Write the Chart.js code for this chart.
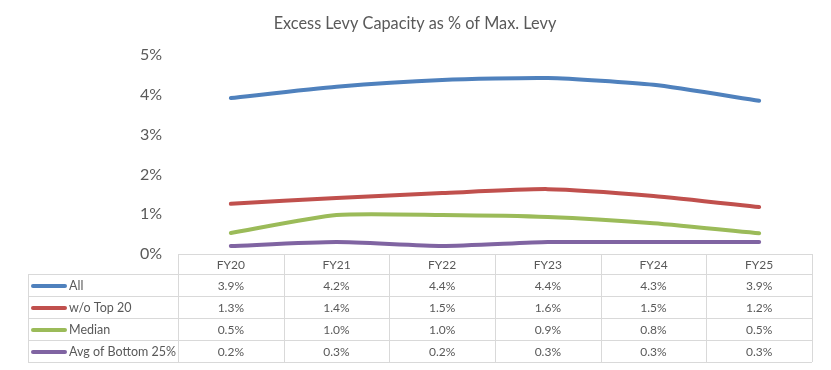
<!DOCTYPE html>
<html>
<head>
<meta charset="utf-8">
<script src="https://cdn.jsdelivr.net/npm/chart.js@4/dist/chart.umd.min.js"></script>
<style>
html,body{margin:0;padding:0;background:#fff;}
#wrap{width:831px;height:370px;position:relative;}
</style>
</head>
<body>
<div id="wrap"><canvas id="c" width="831" height="370"></canvas></div>
<script>
const categories = ['FY20','FY21','FY22','FY23','FY24','FY25'];
const seriesNames = ['All','w/o Top 20','Median','Avg of Bottom 25%'];
const allValues = [3.92, 4.20, 4.37, 4.42, 4.25, 3.85];
const woTop20Values = [1.26, 1.41, 1.53, 1.63, 1.46, 1.18];
const medianValues = [0.53, 0.98, 0.98, 0.93, 0.77, 0.52];
const bottom25Values = [0.2, 0.3, 0.2, 0.3, 0.3, 0.3];
const yTicks = [0,1,2,3,4,5];
const colors = ['#4F81BD','#C0504D','#9BBB59','#8064A2'];
const seriesValues = [allValues, woTop20Values, medianValues, bottom25Values];

const FONT = 'Lato, "Open Sans", sans-serif';
const TEXT = '#595959';
const GRID = '#D9D9D9';

const tablePlugin = {
  id: 'dataTable',
  afterDraw(chart) {
    const ctx = chart.ctx;
    const x = chart.scales.x;
    const area = chart.chartArea;
    const left = 28;
    const top = area.bottom;
    const headerH = 20;
    const rowH = 22;
    const n = categories.length;
    const colW = (area.right - area.left) / n;
    const bottom = top + headerH + rowH * seriesNames.length;
    ctx.save();
    ctx.strokeStyle = GRID;
    ctx.lineWidth = 1;
    ctx.beginPath();
    ctx.moveTo(area.left, top + 0.5);
    ctx.lineTo(area.right, top + 0.5);
    ctx.stroke();
    for (let r = 0; r <= seriesNames.length; r++) {
      const y = Math.round(top + headerH + r * rowH) + 0.5;
      ctx.beginPath();
      ctx.moveTo(left, y);
      ctx.lineTo(area.right, y);
      ctx.stroke();
    }
    for (let c = 0; c <= n; c++) {
      const xx = Math.round(area.left + c * colW) + 0.5;
      ctx.beginPath();
      ctx.moveTo(xx, top);
      ctx.lineTo(xx, bottom);
      ctx.stroke();
    }
    ctx.beginPath();
    ctx.moveTo(left + 0.5, top + headerH);
    ctx.lineTo(left + 0.5, bottom);
    ctx.stroke();
    ctx.fillStyle = TEXT;
    ctx.font = '12px ' + FONT;
    ctx.textAlign = 'center';
    ctx.textBaseline = 'middle';
    categories.forEach((cat, i) => {
      ctx.fillText(cat, x.getPixelForValue(i), top + headerH / 2 + 1);
    });
    seriesNames.forEach((name, r) => {
      const cy = top + headerH + r * rowH + rowH / 2 + 1;
      ctx.strokeStyle = colors[r];
      ctx.lineWidth = 4;
      ctx.lineCap = 'round';
      ctx.beginPath();
      ctx.moveTo(33, cy);
      ctx.lineTo(65, cy);
      ctx.stroke();
      ctx.fillStyle = TEXT;
      ctx.font = '12.5px ' + FONT;
      ctx.textAlign = 'left';
      ctx.fillText(name, 69, cy);
      ctx.textAlign = 'center';
      ctx.font = '12px ' + FONT;
      seriesValues[r].forEach((v, i) => {
        ctx.fillText(v.toFixed(1) + '%', x.getPixelForValue(i), cy);
      });
    });
    ctx.restore();
  }
};

const titlePlugin = {
  id: 'topTitle',
  afterDraw(chart) {
    const ctx = chart.ctx;
    ctx.save();
    ctx.fillStyle = TEXT;
    ctx.font = '16.3px ' + FONT;
    ctx.textAlign = 'center';
    ctx.textBaseline = 'middle';
    ctx.fillText('Excess Levy Capacity as % of Max. Levy', 415, 24);
    ctx.restore();
  }
};

new Chart(document.getElementById('c'), {
  type: 'line',
  data: {
    labels: categories,
    datasets: seriesNames.map((name, i) => ({
      label: name,
      data: seriesValues[i],
      borderColor: colors[i],
      backgroundColor: colors[i],
      borderWidth: 4,
      borderCapStyle: 'round',
      pointRadius: 0,
      tension: 0.2,
      fill: false
    }))
  },
  options: {
    responsive: false,
    animation: false,
    devicePixelRatio: 1,
    layout: { padding: { left: 0, right: 19, top: 55, bottom: 116 } },
    plugins: { legend: { display: false }, title: { display: false }, tooltip: { enabled: false } },
    scales: {
      x: { type: 'category', offset: true, display: false },
      y: {
        min: 0, max: 5,
        afterFit(scale) { scale.width = 178; },
        afterBuildTicks(scale) { scale.ticks = yTicks.map(v => ({ value: v })); },
        grid: { display: false, drawTicks: false },
        border: { display: false },
        ticks: {
          padding: 16,
          color: TEXT,
          font: { family: FONT, size: 16 },
          callback: v => v + '%'
        }
      }
    }
  },
  plugins: [tablePlugin, titlePlugin]
});
</script>
</body>
</html>
